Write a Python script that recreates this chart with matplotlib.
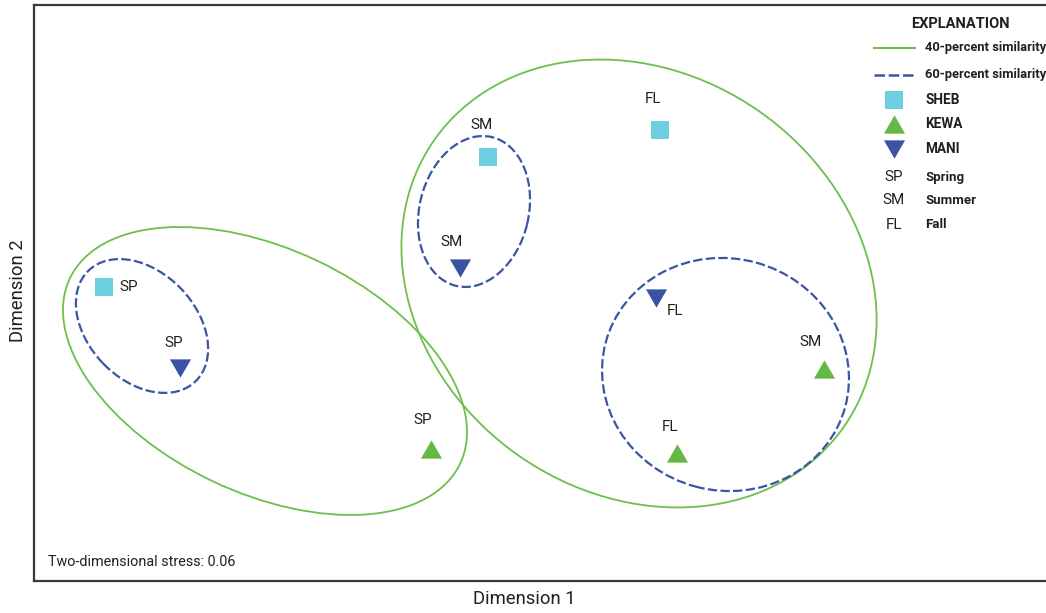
import matplotlib
matplotlib.use("Agg")
import matplotlib.pyplot as plt
from matplotlib.patches import Ellipse
from matplotlib.lines import Line2D
from matplotlib.path import Path

plt.rcParams['font.family'] = ['Roboto', 'DejaVu Sans']

# NMDS site scores (Dimension 1, Dimension 2)
sites = ["SHEB", "SHEB", "SHEB", "KEWA", "KEWA", "KEWA", "MANI", "MANI", "MANI"]
seasons = ["SP", "SM", "FL", "SP", "SM", "FL", "SP", "SM", "FL"]
dim1 = [-2.18, -0.26, 0.60, -0.545, 1.42, 0.685, -1.80, -0.40, 0.58]
dim2 = [0.065, 0.715, 0.85, -0.745, -0.345, -0.765, -0.34, 0.16, 0.01]

# Similarity envelopes: centre x, centre y, semi-axis a, semi-axis b, angle (deg)
env40_cx = [-1.375, 0.495]
env40_cy = [-0.355, 0.0825]
env40_a = [1.08, 1.25]
env40_b = [0.61, 1.05]
env40_ang = [-25.4, -35.0]

env60_cx = [-1.99, -0.33, 0.9275]
env60_cy = [-0.13, 0.4425, -0.3725]
env60_a = [0.385, 0.3825, 0.62]
env60_b = [0.27, 0.273, 0.58]
env60_ang = [-46.0, 76.4, -15.0]

season_names = {"SP": "Spring", "SM": "Summer", "FL": "Fall"}

GREEN_LINE = "#6dbf4b"
BLUE_LINE = "#3b55a3"
SHEB_C = "#6ccfe0"
KEWA_C = "#64b945"
MANI_C = "#3a53a4"
TEXT_C = "#231f20"

tri_up = Path([(0, 0.866), (-1, -0.866), (1, -0.866), (0, 0.866)],
              [Path.MOVETO, Path.LINETO, Path.LINETO, Path.CLOSEPOLY])
tri_dn = Path([(0, -0.866), (-1, 0.866), (1, 0.866), (0, -0.866)],
              [Path.MOVETO, Path.LINETO, Path.LINETO, Path.CLOSEPOLY])
site_style = {
    "SHEB": dict(marker="s", color=SHEB_C, ms=12.6),
    "KEWA": dict(marker=tri_up, color=KEWA_C, ms=15.2),
    "MANI": dict(marker=tri_dn, color=MANI_C, ms=15.2),
}
# label offsets in points (dx, dy)
label_offsets = [(18, 0), (-4.7, 22.7), (-5, 22.3),
                 (-5.8, 21.2), (-9.4, 19.1), (-5, 18.7),
                 (-4.7, 18), (-5.8, 18.7), (13.7, -9.7)]

W, H = 1046, 613
fig = plt.figure(figsize=(W / 100, H / 100), dpi=100)
ax = fig.add_axes([33.5 / W, (H - 581) / H, (1049 - 33.5) / W, 576 / H])
ax.set_xlim(-2.5325, 2.545)
ax.set_ylim(-1.405, 1.475)
ax.set_xticks([])
ax.set_yticks([])
for side, sp in ax.spines.items():
    sp.set_linewidth(1.6)
    sp.set_color("#3a3a3a")

for cx, cy, a, b, ang in zip(env40_cx, env40_cy, env40_a, env40_b, env40_ang):
    ax.add_patch(Ellipse((cx, cy), 2 * a, 2 * b, angle=ang, fill=False,
                         edgecolor=GREEN_LINE, linewidth=1.3, zorder=2))
for cx, cy, a, b, ang in zip(env60_cx, env60_cy, env60_a, env60_b, env60_ang):
    ax.add_patch(Ellipse((cx, cy), 2 * a, 2 * b, angle=ang, fill=False,
                         edgecolor=BLUE_LINE, linewidth=1.6,
                         linestyle=(0, (4.2, 1.5)), zorder=2))

for i, (s, x, y) in enumerate(zip(sites, dim1, dim2)):
    st = site_style[s]
    ax.plot([x], [y], linestyle="none", marker=st["marker"], markersize=st["ms"],
            markerfacecolor=st["color"], markeredgewidth=0, zorder=3)
    dx, dy = label_offsets[i]
    ax.annotate(seasons[i], (x, y), xytext=(dx, dy), textcoords="offset points",
                ha="center", va="center", fontsize=11, color=TEXT_C, zorder=4)


def fx(px):
    return px / W


def fy(py):
    return 1 - py / H


fig.text(fx(48), fy(561.5), "Two-dimensional stress: 0.06", fontsize=10.4,
         color=TEXT_C, ha="left", va="center")
fig.text(fx(524), fy(599), "Dimension 1", fontsize=13.3, color=TEXT_C,
         ha="center", va="center")
fig.text(fx(18), fy(291), "Dimension 2", fontsize=13.3, color=TEXT_C,
         ha="center", va="center", rotation=90)

# Explanation
fig.text(fx(960), fy(24.5), "EXPLANATION", fontsize=10.5, fontweight="bold",
         color=TEXT_C, ha="center", va="center")
fig.add_artist(Line2D([fx(874), fx(915)], [fy(48), fy(48)], color=GREEN_LINE,
                      linewidth=1.5, transform=fig.transFigure))
fig.add_artist(Line2D([fx(874), fx(915)], [fy(75), fy(75)], color=BLUE_LINE,
                      linewidth=1.8, linestyle=(0, (4.2, 1.5)),
                      transform=fig.transFigure))
fig.text(fx(925), fy(48), "40-percent similarity", fontsize=9.3, fontweight="bold",
         color=TEXT_C, ha="left", va="center")
fig.text(fx(925), fy(74.5), "60-percent similarity", fontsize=9.3, fontweight="bold",
         color=TEXT_C, ha="left", va="center")

for s, py in zip(["SHEB", "KEWA", "MANI"], [100, 124, 149]):
    st = site_style[s]
    fig.add_artist(Line2D([fx(894)], [fy(py)], linestyle="none", marker=st["marker"],
                          markersize=st["ms"], markerfacecolor=st["color"],
                          markeredgewidth=0, transform=fig.transFigure))
    fig.text(fx(925), fy(py), s, fontsize=9.8, fontweight="bold", color=TEXT_C,
             ha="left", va="center")

for code, py in zip(["SP", "SM", "FL"], [177, 200.5, 225]):
    fig.text(fx(894), fy(py), code, fontsize=11, color=TEXT_C, ha="center", va="center")
    fig.text(fx(925), fy(py), season_names[code], fontsize=9.5, fontweight="bold",
             color=TEXT_C, ha="left", va="center")

fig.savefig("out.png", dpi=100)
